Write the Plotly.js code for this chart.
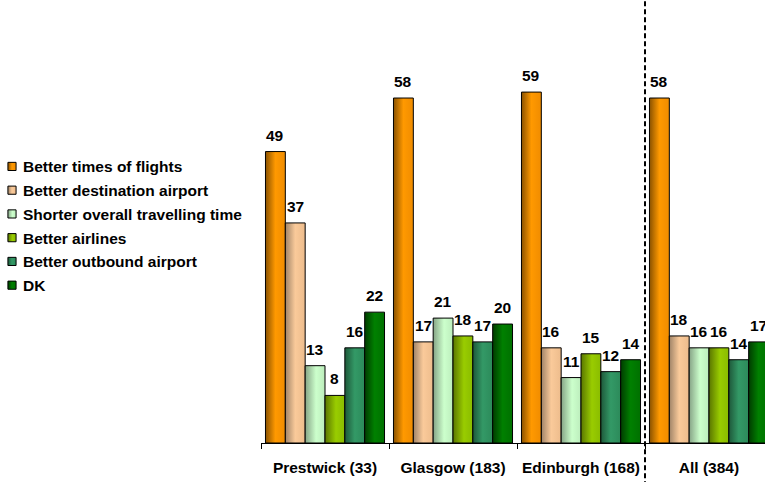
<!DOCTYPE html>
<html>
<head>
<meta charset="utf-8">
<script src="https://cdn.plot.ly/plotly-3.0.1.min.js"></script>
<style>
  html, body { margin: 0; padding: 0; background: #ffffff; overflow: hidden; }
  #chart { width: 765px; height: 482px; }
</style>
</head>
<body>
<div id="chart"></div>
<script>
// Reasons for choosing the airport, by departure airport (base size in brackets)
const categories = ['Prestwick (33)', 'Glasgow (183)', 'Edinburgh (168)', 'All (384)'];
const seriesNames = [
  'Better times of flights',
  'Better destination airport',
  'Shorter overall travelling time',
  'Better airlines',
  'Better outbound airport',
  'DK'
];
const betterTimes       = [49, 58, 59, 58];
const betterDestination = [37, 17, 16, 18];
const shorterTravel     = [13, 21, 11, 16];
const betterAirlines    = [8, 18, 15, 16];
const betterOutbound    = [16, 17, 12, 14];
const dontKnow          = [22, 20, 14, 17];
const seriesValues = [betterTimes, betterDestination, shorterTravel, betterAirlines, betterOutbound, dontKnow];

const baseColors = ['#FF9900', '#FFCC99', '#CCFFCC', '#99CC00', '#339966', '#008000'];
// left-to-right cylinder-like shading for each series
const shades = [
  [['0', '#8A5200'], ['0.5', '#FF9900'], ['1', '#F08C00']],
  [['0', '#A08468'], ['0.5', '#FACA9A'], ['1', '#EDBC8C']],
  [['0', '#86A486'], ['0.55', '#CCFFCC'], ['1', '#BCEDBC']],
  [['0', '#5A7600'], ['0.55', '#99CC00'], ['1', '#8ABC00']],
  [['0', '#1E583A'], ['0.5', '#339966'], ['1', '#2C8A5A']],
  [['0', '#003C00'], ['0.5', '#008000'], ['1', '#007000']]
];

const FONT = 'Liberation Sans, Arial, Helvetica, sans-serif';
const TEXT_SIZE = 15.5;
const BARGAP = 0.07;

const traces = seriesValues.map((vals, k) => ({
  type: 'bar',
  name: seriesNames[k],
  legendgroup: 'g' + k,
  x: categories,
  y: vals,
  marker: { color: baseColors[k], line: { color: '#000000', width: 1 } },
  hoverinfo: 'skip'
}));

// value labels above each bar, placed at the bar's own position within its group
const nSeries = seriesValues.length;
const barW = (1 - BARGAP) / nSeries;
const annotations = [];
seriesValues.forEach((vals, k) => {
  vals.forEach((v, i) => {
    annotations.push({
      xref: 'x', yref: 'y',
      x: i - (1 - BARGAP) / 2 + (k + 0.5) * barW,
      y: v,
      text: String(v),
      showarrow: false,
      xanchor: 'center', yanchor: 'bottom',
      yshift: 6,
      font: { family: FONT, size: TEXT_SIZE, weight: 'bold', color: '#000000' }
    });
  });
});

const layout = {
  width: 765,
  height: 482,
  margin: { l: 261, r: 0, t: 10, b: 39, autoexpand: false },
  paper_bgcolor: '#ffffff',
  plot_bgcolor: '#ffffff',
  barmode: 'group',
  bargap: BARGAP,
  bargroupgap: 0,
  showlegend: true,
  legend: {
    xref: 'paper', yref: 'paper',
    x: -0.5516, xanchor: 'left',
    y: 0.677, yanchor: 'top',
    font: { family: FONT, size: TEXT_SIZE, weight: 'bold', color: '#000000' },
    bgcolor: 'rgba(0,0,0,0)',
    tracegroupgap: 0.6,
    traceorder: 'grouped'
  },
  xaxis: {
    type: 'category',
    range: [-0.5, 3.4375],
    showline: true, linecolor: '#000000', linewidth: 1,
    ticks: 'outside', tickson: 'boundaries', ticklen: 5, tickcolor: '#000000', tickwidth: 1,
    ticklabelstandoff: 10,
    tickfont: { family: FONT, size: TEXT_SIZE, weight: 'bold', color: '#000000' },
    showgrid: false, zeroline: false, fixedrange: true
  },
  yaxis: {
    visible: false,
    range: [0, 72.8],
    showgrid: false, zeroline: false, fixedrange: true
  },
  shapes: [{
    type: 'line',
    xref: 'x', yref: 'paper',
    x0: 2.5, x1: 2.5, y0: -0.1, y1: 1.03,
    line: { color: '#000000', width: 2, dash: '5px,3px' }
  }],
  annotations: annotations
};

function applyShading(gd) {
  const NS = 'http://www.w3.org/2000/svg';
  const svg = gd.querySelector('svg.main-svg');
  let defs = svg.querySelector('defs');
  if (!defs) { defs = document.createElementNS(NS, 'defs'); svg.insertBefore(defs, svg.firstChild); }
  shades.forEach((stops, k) => {
    const lg = document.createElementNS(NS, 'linearGradient');
    lg.setAttribute('id', 'barShade' + k);
    lg.setAttribute('x1', '0'); lg.setAttribute('y1', '0');
    lg.setAttribute('x2', '1'); lg.setAttribute('y2', '0');
    stops.forEach(([off, col]) => {
      const s = document.createElementNS(NS, 'stop');
      s.setAttribute('offset', off);
      s.setAttribute('stop-color', col);
      lg.appendChild(s);
    });
    defs.appendChild(lg);
  });
  gd.querySelectorAll('.barlayer .trace').forEach((tr, k) => {
    const d = tr.__data__;
    const idx = (d && d[0] && d[0].trace) ? d[0].trace.index : k;
    tr.querySelectorAll('path').forEach(p => { p.style.fill = 'url(#barShade' + idx + ')'; });
  });
  // smaller legend swatches, nudged toward the labels
  gd.querySelectorAll('.legend .traces').forEach((tr, k) => {
    const d = tr.__data__;
    const idx = (d && d[0] && d[0].trace) ? d[0].trace.index : k;
    const pts = tr.querySelector('.legendpoints');
    if (!pts) return;
    pts.setAttribute('transform', 'translate(9,0)');
    pts.querySelectorAll('path').forEach(p => {
      const t = p.getAttribute('transform') || '';
      p.setAttribute('transform', t + ' scale(0.68)');
      p.style.vectorEffect = 'non-scaling-stroke';
      p.style.fill = 'url(#barShade' + idx + ')';
    });
  });
}

Plotly.newPlot('chart', traces, layout, { staticPlot: true, displayModeBar: false })
  .then(applyShading);
</script>
</body>
</html>
